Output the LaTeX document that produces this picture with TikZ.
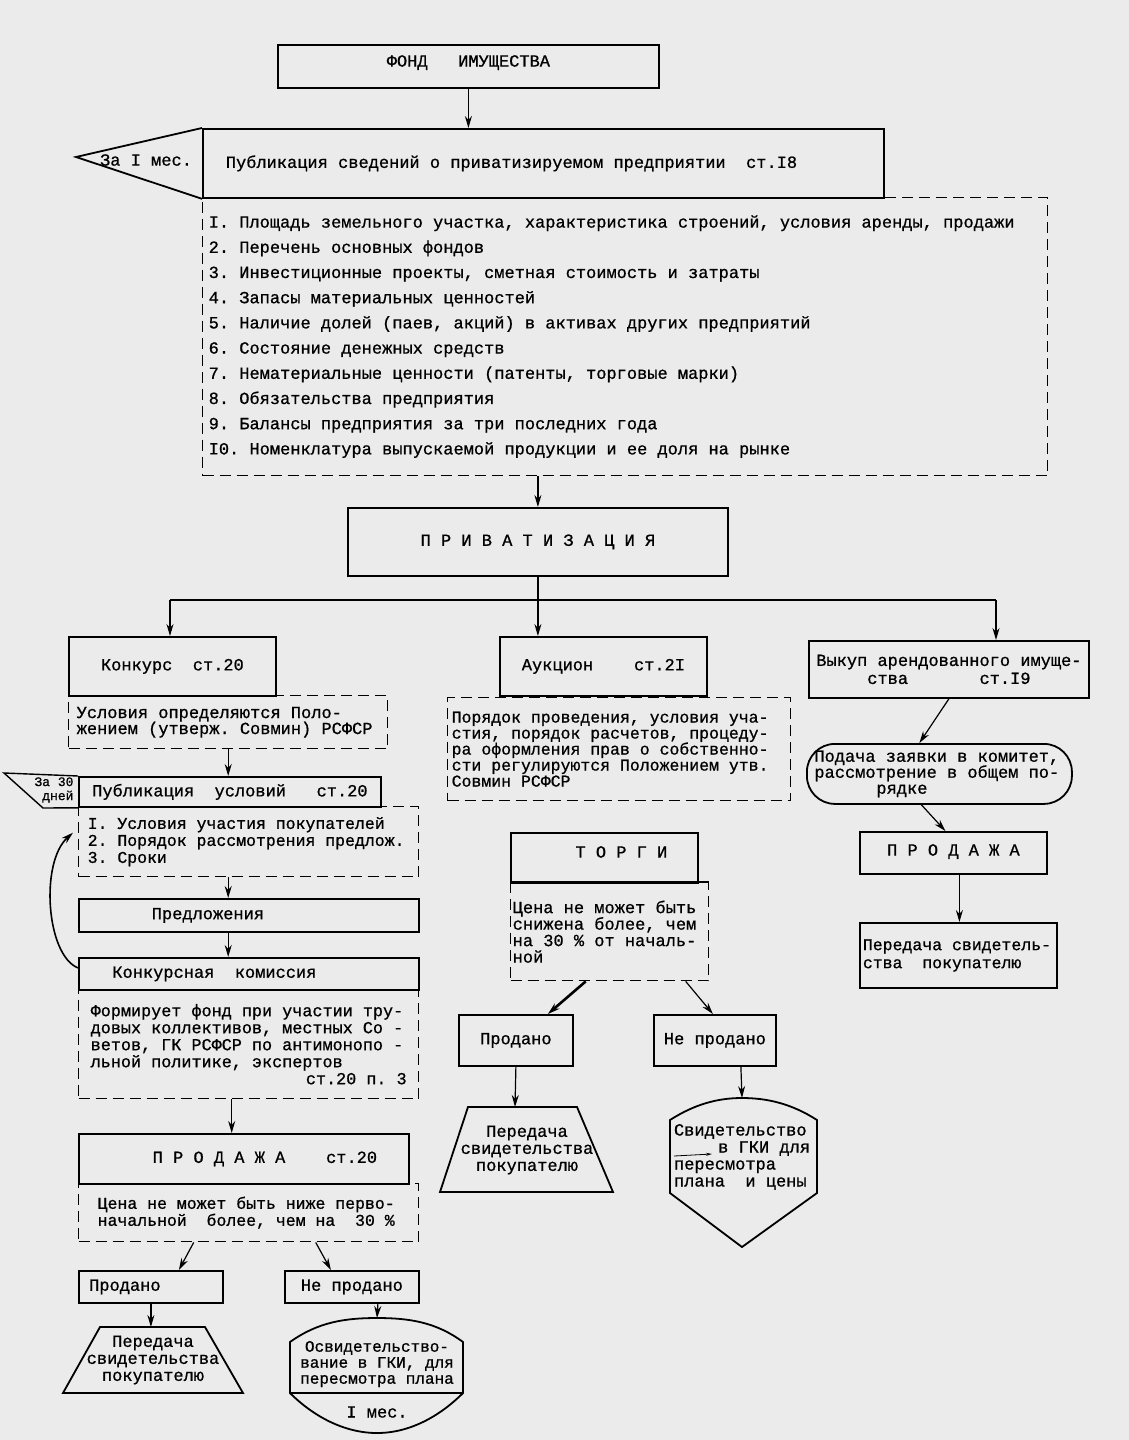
\documentclass[tikz,border=0pt]{standalone}
\usepackage{fontspec}
\newfontfamily\tw[FakeBold=0.8]{Liberation Mono}
\usetikzlibrary{arrows.meta}
\newcommand\fsz[2]{\fontsize{#1}{#2}\selectfont}

\begin{document}
\begin{tikzpicture}[x=1pt,y=-1pt,>={Stealth[length=12pt,width=7pt]},
  every node/.style={font=\tw\fsz{17}{17},execute at begin node={\spaceskip=0.6em\xspaceskip=0.6em}},
  box/.style={draw,line width=1.8pt,inner sep=0pt,anchor=north west,align=center},
  dbox/.style={draw,line width=1.4pt,dash pattern=on 11pt off 6pt,inner sep=0pt,anchor=north west,align=left},
  link/.style={->,line width=1.2pt},
  edge/.style={line width=1.8pt}]
  \useasboundingbox (0,0) rectangle (1129,1440);
  \fill[black!8] (0,0) rectangle (1129,1440);

  % fund and publication
  \node[box,minimum width=381pt,minimum height=43pt] (fond) at (277,44) {ФОНД~~~ИМУЩЕСТВА\rule[-11pt]{0pt}{0pt}};
  \node[dbox,text width=833pt,inner xsep=6pt,minimum height=278pt,font=\tw\fsz{17}{25.2}] (facts) at (202,197)
    {I. Площадь земельного участка, характеристика строений, условия аренды, продажи\\
     2. Перечень основных фондов\\
     3. Инвестиционные проекты, сметная стоимость и затраты\\
     4. Запасы материальных ценностей\\
     5. Наличие долей (паев, акций) в активах других предприятий\\
     6. Состояние денежных средств\\
     7. Нематериальные ценности (патенты, торговые марки)\\
     8. Обязательства предприятия\\
     9. Балансы предприятия за три последних года\\
     I0. Номенклатура выпускаемой продукции и ее доля на рынке};
  \node[box,text width=635pt,inner xsep=23pt,minimum height=69pt,align=left] (pub) at (202,128)
    {Публикация сведений о приватизируемом предприятии~~ст.I8};
  \draw[edge] (pub.north west) -- (76,157) coordinate (za1tip) -- (pub.south west);
  \node (za1) at (146,160) {За I мес.};
  \draw[link] (fond.south) -- (fond.south |- pub.north);

  % privatisation and its three ways
  \node[box,minimum width=380pt,minimum height=68pt] (priv) at (347,507) {П Р И В А Т И З А Ц И Я};
  \draw[link] (priv.north |- facts.south) -- (priv.north);
  \node[dbox,text width=303pt,inner xsep=8pt,minimum height=53pt,font=\tw\fsz{17}{16}] (konkd) at (68,695)
    {Условия определяются Поло-\\жением (утверж. Совмин) РСФСР};
  \node[box,minimum width=207pt,minimum height=59pt] (konk) at (68,636) {Конкурс~~ст.20};
  \node[dbox,text width=335pt,inner xsep=4pt,minimum height=103pt,font=\tw\fsz{16.5}{16}] (aukd) at (447,697)
    {Порядок проведения, условия уча-\\стия, порядок расчетов, процеду-\\ра оформления прав о собственно-\\сти регулируются Положением утв.\\Совмин РСФСР};
  \node[box,minimum width=207pt,minimum height=59pt] (auk) at (499,636) {Аукцион~~~~ст.2I};
  \node[box,minimum width=280pt,minimum height=57pt,font=\tw\fsz{17}{18}] (vyk) at (808,640)
    {Выкуп арендованного имуще-\\ства~~~~~~~ст.I9};
  \draw[edge] (priv.south) -- ++(0,25) coordinate (fork);
  \coordinate (forkL) at (170,600);
  \coordinate (forkR) at (996,600);
  \draw[edge] (forkL) -- (forkR);
  \draw[link] (forkL) -- (forkL |- konk.north);
  \draw[link] (fork) -- (fork |- auk.north);
  \draw[link] (forkR) -- (forkR |- vyk.north);

  % konkurs
  \node[dbox,text width=322pt,inner xsep=9pt,minimum height=70pt,font=\tw\fsz{16.5}{17}] (terms) at (78,806)
    {I. Условия участия покупателей\\2. Порядок рассмотрения предлож.\\3. Сроки};
  \node[box,minimum width=302pt,minimum height=30pt] (pub2) at (78,776) {Публикация~~условий~~~ст.20};
  \draw[link] (konkd.south) -- (konkd.south |- pub2.north);
  \draw[line width=1.4pt] (pub2.north west) -- (4,773) -- (43,808) -- (pub2.south west);
  \node[font=\tw\fsz{13}{14},align=right,anchor=east] (za30) at (77,790) {За 30\\дней};
  \node[box,minimum width=340pt,minimum height=33pt] (pred) at (78,898) {Предложения\rule{82pt}{0pt}};
  \node[box,minimum width=340pt,minimum height=32pt] (komis) at (78,957) {Конкурсная~~комиссия\rule{69pt}{0pt}};
  \draw[link] (konkd.south |- terms.south) -- (konkd.south |- pred.north);
  \draw[link] (konkd.south |- pred.south) -- (konkd.south |- komis.north);
  \draw[link,line width=1.6pt] ([yshift=6pt]komis.west) .. controls (46,955) and (40,862) .. ([xshift=-5pt,yshift=9pt]terms.west);
  \node[dbox,text width=316pt,inner xsep=12pt,minimum height=109pt,font=\tw\fsz{16.8}{17}] (form) at (78,989)
    {Формирует фонд при участии тру-\\довых коллективов, местных Со -\\ветов, ГК РСФСР по антимонопо -\\льной политике, экспертов\\\makebox[316pt][r]{ст.20 п. 3}};
  \node[dbox,text width=302pt,inner xsep=19pt,minimum height=58pt,font=\tw\fsz{16.5}{17}] (prod20d) at (78,1183)
    {Цена не может быть ниже перво-\\начальной~~более, чем на~~30~\%};
  \node[box,minimum width=330pt,minimum height=50pt] (prod20) at (78,1133) {\rule{42pt}{0pt}П Р О Д А Ж А~~~~ст.20};
  \draw[link] ([xshift=-17pt]form.south) -- ([xshift=-17pt]form.south |- prod20.north);
  \node[box,minimum width=144pt,minimum height=32pt] (sold1) at (78,1270) {Продано\rule{52pt}{0pt}};
  \node[box,minimum width=134pt,minimum height=32pt] (unsold1) at (284,1270) {Не продано};
  \draw[link] ([xshift=-55pt]prod20d.south) -- ([xshift=28pt]sold1.north);
  \draw[link] ([xshift=67pt]prod20d.south) -- ([xshift=-21pt]unsold1.north);
  \node[align=center] (gift1) at (153,1360) {Передача\\свидетельства\\покупателю};
  \coordinate (gift1top) at (151,1327);
  \draw[edge] (100,1327) -- (205,1327) -- (243,1393) -- (63,1393) -- cycle;
  \draw[link] (sold1.south) -- (sold1.south |- gift1top);
  \draw[edge] (290,1393) -- (290,1342) .. controls (318,1322) and (345,1318) .. (377,1318) coordinate (cert1top)
    .. controls (409,1318) and (436,1322) .. (463,1342) -- (463,1393)
    .. controls (440,1416) and (410,1433) .. (377,1433) .. controls (344,1433) and (313,1416) .. (290,1393) -- cycle;
  \draw[edge] (290,1393) -- (463,1393);
  \draw[link] ([xshift=26pt]unsold1.south) -- (cert1top);
  \node[align=center,font=\tw\fsz{16}{16}] (cert1) at (377,1364) {Освидетельство-\\вание в ГКИ, для\\пересмотра плана};
  \node (cert1t) at (377,1412) {I мес.};

  % auction
  \node[dbox,text width=194pt,inner xsep=2pt,minimum height=98pt,font=\tw\fsz{17}{16.5}] (torgd) at (510,882)
    {Цена не может быть\\снижена более, чем\\на 30~\% от началь-\\ной};
  \draw[edge] (torgd.north west) -- (torgd.north east);
  \node[box,minimum width=187pt,minimum height=50pt] (torg) at (510,832) {\rule{34pt}{0pt}Т О Р Г И\rule[-12pt]{0pt}{0pt}};
  \node[box,minimum width=114pt,minimum height=51pt] (sold2) at (458,1014) {Продано};
  \node[box,minimum width=122pt,minimum height=51pt] (unsold2) at (653,1014) {Не продано};
  \draw[link,line width=2.6pt] ([xshift=-24pt]torgd.south) -- ([xshift=32pt]sold2.north);
  \draw[link] ([xshift=76pt]torgd.south) -- ([xshift=-2pt]unsold2.north);
  \node[align=center] (gift2) at (527,1150) {Передача\\свидетельства\\покупателю};
  \coordinate (gift2top) at (515,1107);
  \draw[edge] (468,1107) -- (577,1107) -- (613,1192) -- (440,1192) -- cycle;
  \draw[link] (sold2.south) -- (gift2top);
  \draw[edge] (670,1193) -- (670,1120) .. controls (695,1104) and (718,1098) .. (742,1098) coordinate (cert2top)
    .. controls (768,1098) and (792,1104) .. (817,1120) -- (817,1193) -- (742,1247) -- cycle;
  \draw[link] ([xshift=26pt]unsold2.south) -- (cert2top);
  \node[align=left,text width=136pt,inner sep=0pt] (cert2) at (742,1157)
    {Свидетельство\\\makebox[136pt][r]{в ГКИ для}\\пересмотра\\плана~~и цены};
  \draw[-{Stealth[length=6pt,width=3pt]},line width=0.8pt] (674,1156) -- (712,1154);

  % buy-out of leased property
  \node[draw,line width=1.8pt,rounded corners=28pt,anchor=north west,inner sep=0pt,minimum height=60pt,
    text width=250pt,inner xsep=7.5pt,align=left,font=\tw\fsz{17}{16}] (claim) at (806,743)
    {Подача заявки в комитет,\\рассмотрение в общем по-\\\rule{62pt}{0pt}рядке};
  \node[box,minimum width=187pt,minimum height=42pt] (prod3) at (859,831) {П Р О Д А Ж А\rule[-6pt]{0pt}{0pt}};
  \node[box,text width=191pt,inner xsep=3pt,minimum height=65pt,align=left,font=\tw\fsz{16.5}{18}] (gift3) at (859,922)
    {Передача свидетель-\\ства~~покупателю};
  \draw[link] (vyk.south) -- ([xshift=-20pt]claim.north);
  \draw[link] ([xshift=-18pt]claim.south) -- ([xshift=-8pt]prod3.north);
  \draw[link] ([xshift=6pt]prod3.south) -- ([xshift=6pt]prod3.south |- gift3.north);
\end{tikzpicture}
\end{document}
